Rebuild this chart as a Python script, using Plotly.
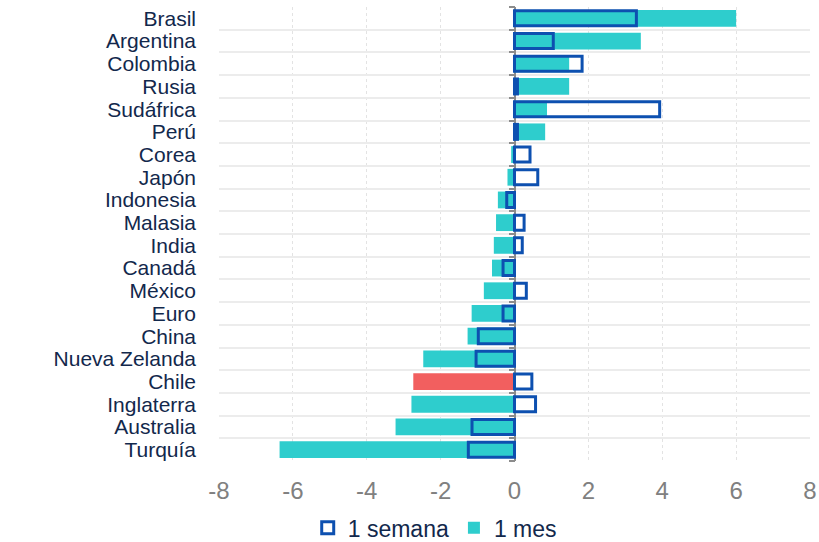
import plotly.graph_objects as go

# Variación de monedas frente al dólar (%)
paises = ["Brasil", "Argentina", "Colombia", "Rusia", "Sudáfrica", "Perú", "Corea",
          "Japón", "Indonesia", "Malasia", "India", "Canadá", "México", "Euro",
          "China", "Nueva Zelanda", "Chile", "Inglaterra", "Australia", "Turquía"]
semana = [3.3, 1.05, 1.83, 0.08, 3.93, 0.08, 0.42, 0.63, -0.21, 0.26, 0.21, -0.31,
          0.32, -0.31, -0.98, -1.04, 0.47, 0.57, -1.15, -1.25]
mes = [6.0, 3.42, 1.48, 1.48, 0.88, 0.83, -0.09, -0.19, -0.45, -0.5, -0.56, -0.61,
       -0.83, -1.16, -1.27, -2.47, -2.74, -2.79, -3.22, -6.36]
x_ticks = [-8, -6, -4, -2, 0, 2, 4, 6, 8]

TEAL = "#2ECDCD"
RED = "#F25F5F"
BLUE = "#0D50B0"
NAVY = "#12284C"
GRAY = "#808080"

colores_mes = [RED if p == "Chile" else TEAL for p in paises]
y_range = [len(paises) - 0.5, -0.5]

fig = go.Figure()
fig.add_trace(go.Bar(
    name="1 mes", y=paises, x=mes, orientation="h",
    marker=dict(color=colores_mes, line=dict(width=0)),
    width=0.74,
))
fig.add_trace(go.Bar(
    name="1 semana", y=paises, x=semana, orientation="h",
    marker=dict(color="rgba(0,0,0,0)", line=dict(color=BLUE, width=3)),
    width=0.66,
))
# axis carrying the tick marks along x = 0
fig.add_trace(go.Scatter(
    x=[0] * len(paises), y=paises, yaxis="y2", mode="markers",
    marker=dict(opacity=0), showlegend=False, hoverinfo="skip",
))

fig.update_layout(
    width=819, height=542,
    margin=dict(l=219, r=9, t=7, b=81, autoexpand=False),
    paper_bgcolor="white", plot_bgcolor="white",
    barmode="overlay",
    font=dict(family="Liberation Sans, Arial, sans-serif", color=NAVY),
    xaxis=dict(
        range=[-8, 8], tickvals=x_ticks, ticktext=[str(v) for v in x_ticks],
        tickfont=dict(size=24, color=GRAY), automargin=False,
        showgrid=True, gridcolor="#e3e3e3", griddash="dot", gridwidth=1,
        zeroline=True, zerolinecolor="#8c8c8c", zerolinewidth=2,
        showline=False, ticks="", ticklabelstandoff=13, fixedrange=True,
    ),
    yaxis=dict(
        type="category", categoryorder="array", categoryarray=paises,
        tickmode="array", tickvals=paises, automargin=False,
        range=y_range, autorange=False, tickson="boundaries",
        showgrid=True, gridcolor="#ececec", gridwidth=2,
        ticks="", tickfont=dict(size=21, color=NAVY),
        ticklabelstandoff=22, showline=False, zeroline=False,
    ),
    yaxis2=dict(
        type="category", categoryorder="array", categoryarray=paises,
        tickmode="array", tickvals=paises, automargin=False,
        overlaying="y", anchor="free", position=0.5,
        range=y_range, autorange=False,
        tickson="boundaries", ticks="outside", ticklen=6, tickwidth=2,
        tickcolor="#8c8c8c", showticklabels=False, showgrid=False,
        showline=False, zeroline=False,
    ),
    legend=dict(
        orientation="h", x=0.365, xanchor="center",
        yref="container", y=0.026, yanchor="middle",
        traceorder="reversed", font=dict(size=23, color=NAVY),
        itemwidth=30, tracegroupgap=0, bgcolor="rgba(0,0,0,0)",
    ),
    showlegend=True,
)

fig.write_html("out.html")
